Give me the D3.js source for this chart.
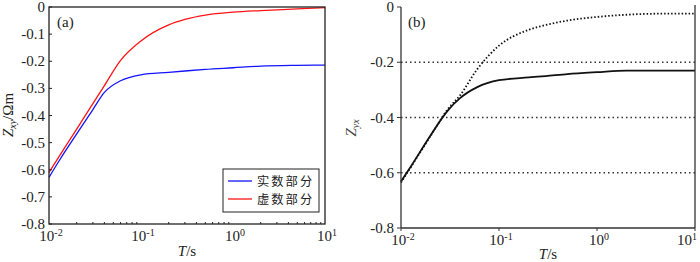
<!DOCTYPE html>
<html>
<head>
<meta charset="utf-8">
<script src="https://cdn.jsdelivr.net/npm/d3@7"></script>
<style>
body { margin: 0; background: #fff; }
#chart text { font-family: "Times New Roman", Times, "Liberation Serif", "DejaVu Serif", serif; }
#chart text.cjk { font-family: "Noto Sans CJK SC", sans-serif; }
</style>
</head>
<body>
<svg id="chart" width="700" height="262"></svg>
<script>
// periods (s)
var periods = [0.01, 0.013, 0.02, 0.03, 0.04, 0.06, 0.1, 0.2, 0.3, 0.5, 1, 2, 5, 10];

// (a) Zxy
var zxyReal = [-0.628, -0.565, -0.468, -0.378, -0.315, -0.272, -0.25, -0.241, -0.236, -0.23, -0.224, -0.218, -0.215, -0.214];
var zxyImag = [-0.61, -0.549, -0.45, -0.356, -0.29, -0.197, -0.125, -0.066, -0.046, -0.03, -0.019, -0.013, -0.007, -0.002];

// (b) Zyx
var zyxReal = [-0.632, -0.57, -0.465, -0.375, -0.33, -0.29, -0.265, -0.255, -0.25, -0.243, -0.236, -0.23, -0.23, -0.23];
var zyxImag = [-0.635, -0.572, -0.467, -0.37, -0.32, -0.225, -0.14, -0.083, -0.065, -0.049, -0.036, -0.028, -0.024, -0.024];

var xTicks = [0.01, 0.1, 1, 10];
var xExp = ['-2', '-1', '0', '1'];
var yTicksA = [0, -0.1, -0.2, -0.3, -0.4, -0.5, -0.6, -0.7, -0.8];
var yTicksB = [0, -0.2, -0.4, -0.6, -0.8];
var gridB = [-0.2, -0.4, -0.6];
var legendNames = ['实数部分', '虚数部分'];

var svg = d3.select('#chart');

function tickLabel(sel, x, y, exp) {
    var t = sel.append('text').attr('x', x).attr('y', y)
        .attr('text-anchor', 'middle').attr('font-size', 15).attr('fill', '#222');
    t.append('tspan').text('10');
    t.append('tspan').attr('dy', -5).attr('font-size', 10).text(exp);
}

function minorTicks() {
    var out = [];
    [0.01, 0.1, 1].forEach(function (d) {
        for (var k = 2; k <= 9; k++) out.push(d * k);
    });
    return out;
}

//******** panel (a) ********
var xa = d3.scaleLog().domain([0.01, 10]).range([49, 325]);
var ya = d3.scaleLinear().domain([-0.8, 0]).range([224, 7]);
var ga = svg.append('g');

var lineA = d3.line().x(function (d, i) { return xa(periods[i]); }).y(function (d) { return ya(d); })
    .curve(d3.curveMonotoneX);

ga.append('path').datum(zxyReal).attr('d', lineA).attr('fill', 'none')
    .attr('stroke', '#1414ff').attr('stroke-width', 1.3);
ga.append('path').datum(zxyImag).attr('d', lineA).attr('fill', 'none')
    .attr('stroke', '#ff1414').attr('stroke-width', 1.3);

ga.append('rect').attr('x', 49).attr('y', 7).attr('width', 276).attr('height', 217)
    .attr('fill', 'none').attr('stroke', '#222').attr('stroke-width', 1.3);

// minor ticks on bottom, inside
ga.selectAll('.mt').data(minorTicks()).enter().append('line')
    .attr('x1', d => xa(d)).attr('x2', d => xa(d))
    .attr('y1', 224).attr('y2', 222).attr('stroke', '#222');
ga.selectAll('.yt').data(yTicksA).enter().append('line')
    .attr('x1', 49).attr('x2', 52).attr('y1', d => ya(d)).attr('y2', d => ya(d)).attr('stroke', '#222');

ga.selectAll('.yl').data(yTicksA).enter().append('text')
    .attr('x', 45).attr('y', d => ya(d) + 5).attr('text-anchor', 'end')
    .attr('font-size', 15).attr('fill', '#222')
    .text(d => d === 0 ? '0' : d.toFixed(1));

xTicks.forEach(function (d, i) { tickLabel(ga, xa(d) + 2, 241, xExp[i]); });

var xtA = ga.append('text').attr('x', 187).attr('y', 256).attr('text-anchor', 'middle')
    .attr('font-size', 15).attr('fill', '#222');
xtA.append('tspan').attr('font-style', 'italic').text('T');
xtA.append('tspan').text('/s');

var ytA = ga.append('text').attr('transform', 'translate(13,115) rotate(-90)')
    .attr('text-anchor', 'middle').attr('font-size', 15).attr('fill', '#222');
ytA.append('tspan').attr('font-style', 'italic').text('Z');
ytA.append('tspan').attr('dy', 3).attr('font-size', 10).attr('font-style', 'italic').text('xy');
ytA.append('tspan').attr('dy', -3).text('/Ωm');

ga.append('text').attr('x', 57).attr('y', 27).attr('font-size', 15).attr('fill', '#222').text('(a)');

// legend
var lg = ga.append('g');
lg.append('rect').attr('x', 223).attr('y', 169).attr('width', 96).attr('height', 43)
    .attr('fill', '#fff').attr('stroke', '#222').attr('stroke-width', 1);
var legColors = ['#1414ff', '#ff1414'];
legendNames.forEach(function (name, i) {
    var yy = 181 + i * 18;
    lg.append('line').attr('x1', 228).attr('x2', 252).attr('y1', yy).attr('y2', yy)
        .attr('stroke', legColors[i]).attr('stroke-width', 1.3);
    lg.append('text').attr('class', 'cjk').attr('x', 257).attr('y', yy + 4.5).attr('font-size', 12.3)
        .attr('letter-spacing', 2).attr('fill', '#222').text(name);
});

//******** panel (b) ********
var xb = d3.scaleLog().domain([0.01, 10]).range([401, 695]);
var yb = d3.scaleLinear().domain([-0.8, 0]).range([228, 7]);
var gb = svg.append('g');

gb.selectAll('.grid').data(gridB).enter().append('line')
    .attr('x1', 401).attr('x2', 695).attr('y1', d => yb(d)).attr('y2', d => yb(d))
    .attr('stroke', '#333').attr('stroke-width', 1.3).attr('stroke-dasharray', '1.5,3');

var lineB = d3.line().x(function (d, i) { return xb(periods[i]); }).y(function (d) { return yb(d); })
    .curve(d3.curveMonotoneX);

gb.append('path').datum(zyxImag).attr('d', lineB).attr('fill', 'none')
    .attr('stroke', '#111').attr('stroke-width', 1.8).attr('stroke-dasharray', '1.5,2');
gb.append('path').datum(zyxReal).attr('d', lineB).attr('fill', 'none')
    .attr('stroke', '#111').attr('stroke-width', 1.8);

gb.append('line').attr('x1', 401).attr('x2', 401).attr('y1', 7).attr('y2', 228)
    .attr('stroke', '#333').attr('stroke-width', 1.3);
gb.append('line').attr('x1', 401).attr('x2', 695).attr('y1', 228).attr('y2', 228)
    .attr('stroke', '#333').attr('stroke-width', 1.3);
gb.append('line').attr('x1', 695).attr('x2', 695).attr('y1', 5).attr('y2', 228)
    .attr('stroke', '#333').attr('stroke-width', 1.3);

gb.selectAll('.yt').data(yTicksB).enter().append('line')
    .attr('x1', 397).attr('x2', 401).attr('y1', d => yb(d)).attr('y2', d => yb(d)).attr('stroke', '#333');
gb.selectAll('.xt').data(xTicks).enter().append('line')
    .attr('x1', d => xb(d)).attr('x2', d => xb(d)).attr('y1', 228).attr('y2', 231).attr('stroke', '#333');

gb.selectAll('.yl').data(yTicksB).enter().append('text')
    .attr('x', 394).attr('y', d => yb(d) + 5).attr('text-anchor', 'end')
    .attr('font-size', 15).attr('fill', '#222')
    .text(d => d === 0 ? '0' : d.toFixed(1));

xTicks.forEach(function (d, i) {
    tickLabel(gb, xb(d) + (i === 3 ? -8 : 2), 245, xExp[i]);
});

var xtB = gb.append('text').attr('x', 548).attr('y', 259).attr('text-anchor', 'middle')
    .attr('font-size', 15).attr('fill', '#222');
xtB.append('tspan').attr('font-style', 'italic').text('T');
xtB.append('tspan').text('/s');

var ytB = gb.append('text').attr('transform', 'translate(356,128) rotate(-90)')
    .attr('text-anchor', 'middle').attr('font-size', 15).attr('fill', '#444');
ytB.append('tspan').attr('font-style', 'italic').text('Z');
ytB.append('tspan').attr('dy', 3).attr('font-size', 10).attr('font-style', 'italic').text('yx');

gb.append('text').attr('x', 408).attr('y', 27).attr('font-size', 15).attr('fill', '#222').text('(b)');
</script>
</body>
</html>
